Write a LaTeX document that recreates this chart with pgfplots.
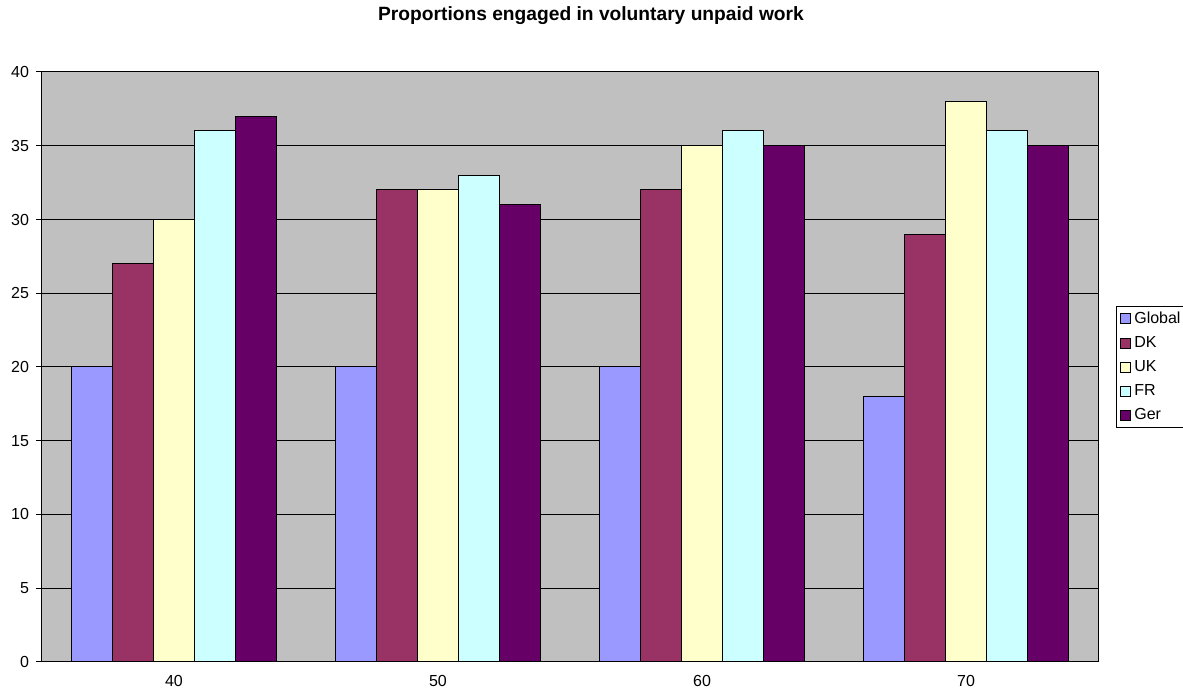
\documentclass[border=0pt]{standalone}
\usepackage{pgfplots}
\pgfplotsset{compat=1.18}
\usepackage{fontspec}
\setmainfont{Liberation Sans}
\definecolor{cGlobal}{HTML}{9999FF}
\definecolor{cDK}{HTML}{993366}
\definecolor{cUK}{HTML}{FFFFCC}
\definecolor{cFR}{HTML}{CCFFFF}
\definecolor{cGer}{HTML}{660066}
\definecolor{plotbg}{HTML}{C0C0C0}
\begin{document}
\begin{tikzpicture}
\path[use as bounding box] (-21pt,-16pt) rectangle (570.5pt,331pt);
\begin{axis}[
  at={(0,0)}, anchor=south west,
  width=528pt, height=295pt, scale only axis,
  xmin=-0.5, xmax=3.5, ymin=0, ymax=40,
  ytick={0,5,...,40},
  xtick={0,1,2,3}, xticklabels={40,50,60,70},
  xtick pos=bottom, ytick pos=left,
  x tick style={draw=none},
  extra x ticks={-0.5,0.5,1.5,2.5,3.5},
  extra x tick labels={},
  extra x tick style={grid=none, major tick length=4pt, tick style={draw=black, line width=0.5pt}},
  tick align=outside,
  major tick length=3pt,
  y tick style={black, line width=0.5pt},
  ymajorgrids, grid style={black, line width=0.5pt},
  axis background/.style={fill=plotbg},
  axis line style={black, line width=0.5pt},
  tick label style={font=\fontsize{8}{9.6}\selectfont},
  /pgf/number format/assume math mode=true,
  ybar=0pt, bar width=0.155,
  legend style={at={(rel axis cs:1,0.5)}, anchor=west, xshift=9pt,
    draw=black, fill=white, line width=0.5pt,
    font=\fontsize{8}{9.6}\selectfont,
    inner xsep=1.5pt, inner ysep=0.5pt, row sep=1pt,
    /tikz/every even column/.append style={column sep=0pt}},
  legend cell align=left,
  legend image code/.code={\draw[#1,draw=black,line width=0.4pt] (0pt,-2.5pt) rectangle (5pt,2.5pt);},
  every axis plot/.append style={draw=black, line width=0.5pt},
  clip=false,
]
\addplot[fill=cGlobal] coordinates {(0,20) (1,20) (2,20) (3,18)};
\addplot[fill=cDK] coordinates {(0,27) (1,32) (2,32) (3,29)};
\addplot[fill=cUK] coordinates {(0,30) (1,32) (2,35) (3,38)};
\addplot[fill=cFR] coordinates {(0,36) (1,33) (2,36) (3,36)};
\addplot[fill=cGer] coordinates {(0,37) (1,31) (2,35) (3,35)};
\legend{Global,DK,UK,FR,Ger}
\end{axis}
\node[anchor=base, font=\fontsize{9.6}{11.5}\selectfont\bfseries] at (274.5pt,320.5pt) {Proportions engaged in voluntary unpaid work};
\end{tikzpicture}
\end{document}
